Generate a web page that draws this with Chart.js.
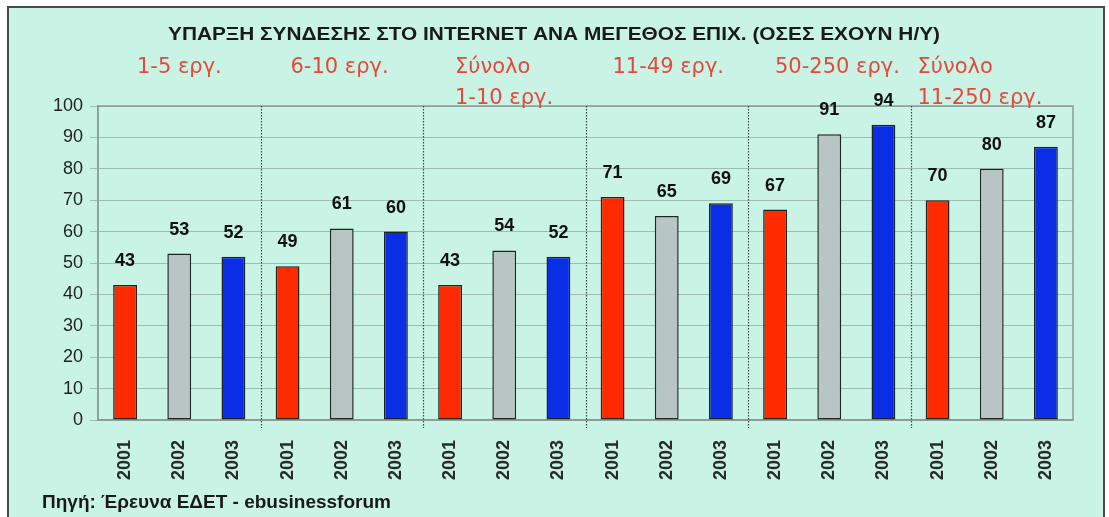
<!DOCTYPE html>
<html>
<head>
<meta charset="utf-8">
<script src="https://cdn.jsdelivr.net/npm/chart.js@4/dist/chart.umd.min.js"></script>
<style>
html,body{margin:0;padding:0;background:#fff;}
</style>
</head>
<body>
<canvas id="myChart" width="1109" height="517"></canvas>
<script>
// data
var years = ['2001', '2002', '2003'];
var groupNames = [['1-5 εργ.'], ['6-10 εργ.'], ['Σύνολο', '1-10 εργ.'], ['11-49 εργ.'], ['50-250 εργ.'], ['Σύνολο', '11-250 εργ.']];
var emp_1_5 = [43, 53, 52];
var emp_6_10 = [49, 61, 60];
var total_1_10 = [43, 54, 52];
var emp_11_49 = [71, 65, 69];
var emp_50_250 = [67, 91, 94];
var total_11_250 = [70, 80, 87];
var yTicks = [0, 10, 20, 30, 40, 50, 60, 70, 80, 90, 100];
var titleText = 'ΥΠΑΡΞΗ ΣΥΝΔΕΣΗΣ ΣΤΟ INTERNET ΑΝΑ ΜΕΓΕΘΟΣ ΕΠΙΧ. (ΟΣΕΣ ΕΧΟΥΝ Η/Υ)';
var sourceText = 'Πηγή: Έρευνα ΕΔΕΤ - ebusinessforum';

var yearColors = ['#ff2a00', '#b9c4c4', '#0a2de6'];
var allGroups = [emp_1_5, emp_6_10, total_1_10, emp_11_49, emp_50_250, total_11_250];

var labels = [];
var values = [];
var colors = [];
allGroups.forEach(function (g) {
  g.forEach(function (v, i) {
    labels.push(years[i]);
    values.push(v);
    colors.push(yearColors[i]);
  });
});

var bg = '#c9f4e5';
var sansFont = '"Liberation Sans", Arial, sans-serif';

// text squeezed/stretched to a given width
function fitText(c, txt, x, y, w) {
  var m = c.measureText(txt).width;
  c.save();
  c.translate(x, y);
  c.scale(w / m, 1);
  c.fillText(txt, 0, 0);
  c.restore();
}

var decorPlugin = {
  id: 'decor',
  beforeDraw: function (chart) {
    var c = chart.ctx;
    c.save();
    c.fillStyle = '#ffffff';
    c.fillRect(0, 0, chart.width, chart.height);
    c.fillStyle = bg;
    c.fillRect(8, 7, 1096, 520);
    c.strokeStyle = '#4a4a4a';
    c.lineWidth = 2;
    c.strokeRect(8, 7, 1096, 520);
    c.restore();
  },
  beforeDatasetsDraw: function (chart) {
    var c = chart.ctx;
    var a = chart.chartArea;
    var x = chart.scales.x;
    c.save();
    c.strokeStyle = '#8a9c95';
    c.lineWidth = 1.5;
    c.strokeRect(a.left, a.top, a.right - a.left, a.bottom - a.top);
    // dotted separators between groups
    c.strokeStyle = '#3a4a44';
    c.lineWidth = 1.2;
    c.setLineDash([1.5, 1.5]);
    for (var g = 1; g < allGroups.length; g++) {
      var sx = Math.round((x.getPixelForValue(g * 3 - 1) + x.getPixelForValue(g * 3)) / 2) + 0.5;
      c.beginPath();
      c.moveTo(sx, a.top);
      c.lineTo(sx, a.bottom + 8);
      c.stroke();
    }
    c.restore();
  },
  afterDatasetsDraw: function (chart) {
    var c = chart.ctx;
    var meta = chart.getDatasetMeta(0);
    var x = chart.scales.x;
    c.save();
    c.fillStyle = '#111';
    c.font = 'bold 18px ' + sansFont;
    c.textAlign = 'center';
    c.textBaseline = 'middle';
    meta.data.forEach(function (bar, i) {
      c.fillText(values[i], bar.x, bar.y - 24);
    });

    // title
    c.textAlign = 'left';
    c.textBaseline = 'alphabetic';
    c.font = 'bold 18px ' + sansFont;
    c.fillStyle = '#1a1a1a';
    fitText(c, titleText, 168, 40, 772);

    // group labels
    var offs = [[39], [30], [32, 32], [27], [27], [7, 7]];
    var rowsY = [73, 104];
    c.font = '21px "DejaVu Sans", Verdana, sans-serif';
    c.fillStyle = '#e8483a';
    var half = (x.getPixelForValue(1) - x.getPixelForValue(0)) / 2;
    groupNames.forEach(function (lines, g) {
      var gx = x.getPixelForValue(g * 3) - half;
      lines.forEach(function (t, r) {
        c.fillText(t, gx + offs[g][r], rowsY[r]);
      });
    });

    // source
    c.font = 'bold 19px ' + sansFont;
    c.fillStyle = '#1a1a1a';
    c.fillText(sourceText, 42, 508);
    c.restore();
  }
};

var ctx = document.getElementById('myChart');
var myChart = new Chart(ctx, {
  type: 'bar',
  data: {
    labels: labels,
    datasets: [{
      data: values,
      backgroundColor: colors,
      borderColor: '#1e2622',
      borderWidth: 1.5,
      borderSkipped: false,
      barPercentage: 0.44,
      categoryPercentage: 1
    }]
  },
  options: {
    responsive: false,
    devicePixelRatio: 1,
    animation: false,
    layout: {
      padding: { left: 8, right: 36, top: 106, bottom: 0 }
    },
    plugins: {
      legend: { display: false },
      title: { display: false },
      tooltip: { enabled: false }
    },
    scales: {
      x: {
        grid: { display: false },
        border: { display: true, color: '#8a9c95', width: 1.5 },
        ticks: {
          autoSkip: false,
          minRotation: 90,
          maxRotation: 90,
          padding: 12,
          color: '#2a2a2a',
          font: { family: sansFont, size: 18, weight: 'bold' }
        },
        afterFit: function (s) { s.height = 97; }
      },
      y: {
        min: 0,
        max: 100,
        afterBuildTicks: function (s) {
          s.ticks = yTicks.map(function (v) { return { value: v }; });
        },
        grid: { color: '#9dbdb1', lineWidth: 1, tickLength: 8 },
        border: { display: true, color: '#8a9c95', width: 1.5 },
        ticks: {
          padding: 7,
          color: '#222',
          font: { family: sansFont, size: 18 }
        },
        afterFit: function (s) { s.width = 90; }
      }
    }
  },
  plugins: [decorPlugin]
});
</script>
</body>
</html>
